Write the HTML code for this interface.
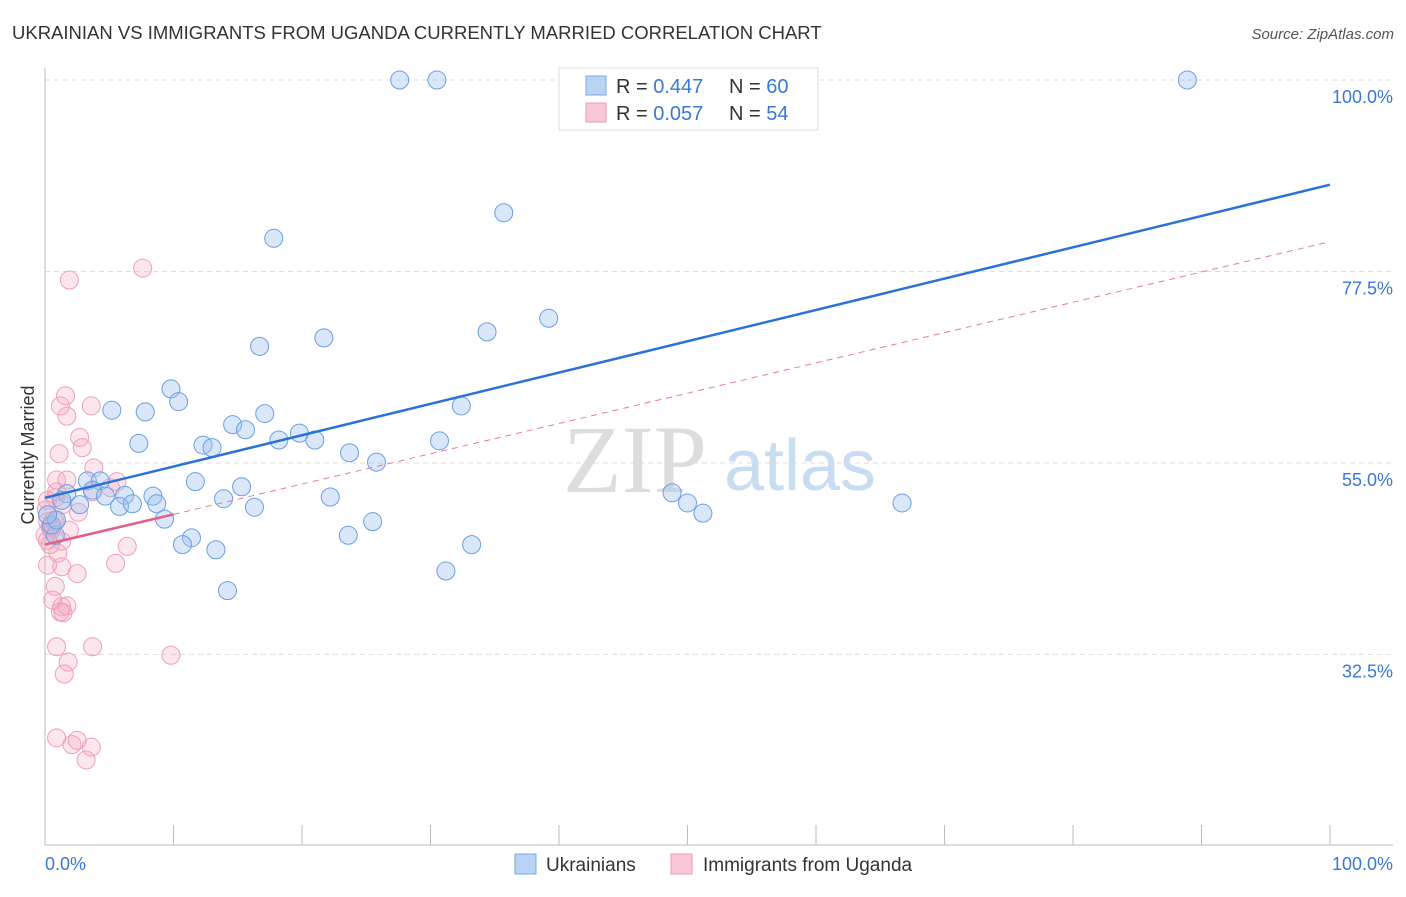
<!DOCTYPE html>
<html><head><meta charset="utf-8"><style>
body{margin:0;background:#fff;font-family:"Liberation Sans",sans-serif}
</style></head><body>
<svg width="1406" height="892" viewBox="0 0 1406 892" xmlns="http://www.w3.org/2000/svg">
<text x="12" y="39" font-size="18.5" fill="#333">UKRAINIAN VS IMMIGRANTS FROM UGANDA CURRENTLY MARRIED CORRELATION CHART</text>
<text x="1394" y="39" font-size="15" fill="#555" font-style="italic" text-anchor="end">Source: ZipAtlas.com</text>
<g>
<text x="635" y="492" font-size="96" fill="#ddd" font-family="Liberation Serif,serif" text-anchor="middle">ZIP</text>
<text x="800" y="490" font-size="72" fill="#c8dcf2" text-anchor="middle">atlas</text>
</g>
<g id="grid"></g>
<g id="axes"></g>
<g id="marks"></g>
<text x="34" y="455" font-size="18" fill="#333" transform="rotate(-90 34 455)" text-anchor="middle">Currently Married</text>
<g>
<rect x="559" y="68" width="259" height="62" fill="#fff" stroke="#ddd"/>
<rect x="586" y="76" width="20" height="19" fill="#b9d3f5" stroke="#7aa8e6"/>
<rect x="586" y="103" width="20" height="19" fill="#f9c8d7" stroke="#ec9ab4"/>
<text x="616" y="93" font-size="20" fill="#333">R = <tspan fill="#3a78d4">0.447</tspan></text>
<text x="729" y="93" font-size="20" fill="#333">N = <tspan fill="#3a78d4">60</tspan></text>
<text x="616" y="120" font-size="20" fill="#333">R = <tspan fill="#3a78d4">0.057</tspan></text>
<text x="729" y="120" font-size="20" fill="#333">N = <tspan fill="#3a78d4">54</tspan></text>
</g>
<g>
<rect x="515" y="854" width="21" height="20" fill="#b9d3f5" stroke="#7aa8e6"/>
<text x="546" y="871" font-size="19" fill="#333">Ukrainians</text>
<rect x="671" y="854" width="21" height="20" fill="#f9c8d7" stroke="#ec9ab4"/>
<text x="703" y="871" font-size="19" fill="#333">Immigrants from Uganda</text>
</g>
</svg>
<script>
const blueX=[27.6,30.5,88.9,35.7,17.8,39.2,34.4,21.7,16.7,9.8,10.4,32.4,5.2,7.8,17.1,14.6,15.6,19.8,7.3,12.3,18.2,21.0,13.0,30.7,23.7,25.8,3.3,4.3,11.7,15.3,1.7,3.7,6.2,8.4,22.2,48.8,13.9,4.7,2.7,5.8,6.8,8.7,16.3,50.0,51.2,66.7,9.3,25.5,23.6,11.4,10.7,13.3,33.2,31.2,14.2,0.8,0.5,0.9,0.2,1.3];
const blueY=[100,100,100,84.4,81.4,72.0,70.4,69.7,68.7,63.7,62.2,61.7,61.2,61.0,60.8,59.5,58.9,58.5,57.3,57.1,57.7,57.7,56.8,57.6,56.2,55.1,52.9,52.9,52.8,52.2,51.4,51.8,51.2,51.1,51.0,51.5,50.8,51.1,50.1,49.9,50.2,50.2,49.8,50.3,49.1,50.3,48.4,48.1,46.5,46.2,45.4,44.8,45.4,42.3,40.0,46.5,47.7,48.3,48.9,50.6];
const pinkX=[1.6,1.2,1.7,3.6,2.7,2.9,1.1,3.8,0.9,0.9,3.7,5.6,5.1,1.7,2.6,1.4,0.8,0.2,0.7,0.5,0.2,1.3,6.4,5.5,0.2,1.3,2.5,0.8,0.6,1.3,1.7,1.2,1.4,0.9,3.7,9.8,1.8,1.5,0.9,2.1,2.5,3.6,3.2,7.6,1.9,0.2,0.4,0.5,0,0.8,0.4,0.1,1.0,1.9];
const pinkY=[62.9,61.7,60.5,61.7,58.0,56.8,56.1,54.4,53.0,51.6,51.6,52.8,52.1,53.0,49.2,50.1,50.9,50.6,48.3,47.4,45.9,45.8,45.2,43.2,43.0,42.8,42.0,40.5,38.9,38.1,38.2,37.5,37.4,33.4,33.4,32.4,31.6,30.2,22.7,21.9,22.4,21.6,20.1,77.9,76.5,48.1,47.5,47.1,46.5,48.1,45.4,49.5,44.4,47.1];
const yTicks=[100,77.5,55,32.5];
const yTickLabels=["100.0%","77.5%","55.0%","32.5%"];
const xTicks=[0,10,20,30,40,50,60,70,80,90,100];
const blueTrend=[50.9,87.7];
const pinkTrend=[45.4,81.0];
const pinkSolidEnd=10;

const NS="http://www.w3.org/2000/svg";
const sx=v=>45+v*12.85, sy=v=>80+(100-v)*8.51;
function mk(t,a,p){const e=document.createElementNS(NS,t);for(const k in a)e.setAttribute(k,a[k]);p.appendChild(e);return e;}
const grid=document.getElementById('grid'),axes=document.getElementById('axes'),marks=document.getElementById('marks');
yTicks.forEach((t,i)=>{
 const l=mk('line',{x1:45,x2:1393,y1:sy(t),y2:sy(t),stroke:'#ddd','stroke-dasharray':'5,4'},grid);
 
 
 const tx=mk('text',{x:1393,y:sy(t)+23,'font-size':18,fill:'#3a78d4','text-anchor':'end'},grid);
 tx.textContent=yTickLabels[i];
 
 
});
const ax=mk('line',{x1:45,x2:1393,y1:845,y2:845,stroke:'#bbb'},axes);


const ay=mk('line',{x1:45,x2:45,y1:68,y2:845,stroke:'#bbb'},axes);


xTicks.forEach(t=>{
 const l=mk('line',{x1:sx(t),x2:sx(t),y1:825,y2:845,stroke:'#bbb'},axes);
 
 
});
const x0=mk('text',{x:45,y:870,'font-size':18,fill:'#3a78d4'},axes);x0.textContent='0.0%';


const x1=mk('text',{x:1393,y:870,'font-size':18,fill:'#3a78d4','text-anchor':'end'},axes);x1.textContent='100.0%';


pinkX.forEach((x,i)=>{
 const c=mk('circle',{cx:sx(x),cy:sy(pinkY[i]),r:9,fill:'rgba(245,165,190,0.28)',stroke:'#ef9fb8','stroke-width':1},marks);
 
 
});
blueX.forEach((x,i)=>{
 const c=mk('circle',{cx:sx(x),cy:sy(blueY[i]),r:9,fill:'rgba(160,195,240,0.4)',stroke:'#6a9fe0','stroke-width':1},marks);
 
 
});
const pv=x=>pinkTrend[0]+(pinkTrend[1]-pinkTrend[0])*x/100;
const pd=mk('line',{x1:sx(pinkSolidEnd),y1:sy(pv(pinkSolidEnd)),x2:sx(100),y2:sy(pinkTrend[1]),stroke:'#e87a9c','stroke-width':1,'stroke-dasharray':'6,5'},marks);


const ps=mk('line',{x1:sx(0),y1:sy(pinkTrend[0]),x2:sx(pinkSolidEnd),y2:sy(pv(pinkSolidEnd)),stroke:'#e0608a','stroke-width':2.5},marks);


const bt=mk('line',{x1:sx(0),y1:sy(blueTrend[0]),x2:sx(100),y2:sy(blueTrend[1]),stroke:'#2a72d6','stroke-width':2.5},marks);


</script>
</body></html>
